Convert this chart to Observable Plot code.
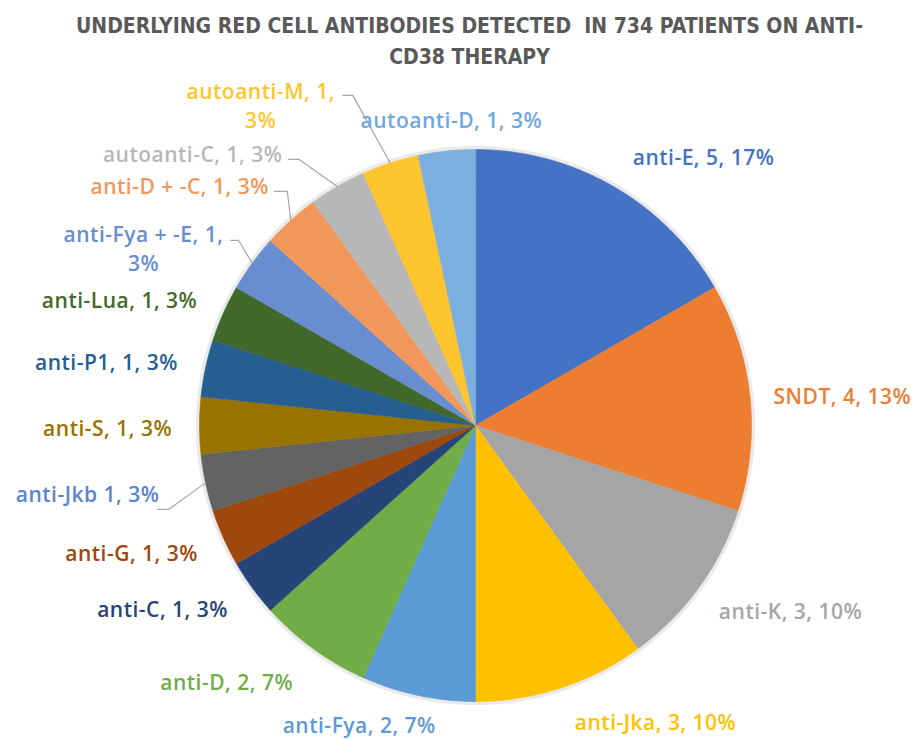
<!DOCTYPE html>
<html><head><meta charset="utf-8">
<script src="https://cdn.jsdelivr.net/npm/d3@7"></script>
<script src="https://cdn.jsdelivr.net/npm/@observablehq/plot@0.6"></script>
<style>
body{margin:0;background:#fff;width:917px;height:739px;overflow:hidden;position:relative;}
#title{position:absolute;top:0;left:0;width:917px;height:80px;text-align:center;font-family:"Liberation Sans Narrow","Arial Narrow","DejaVu Sans Condensed",sans-serif;font-weight:bold;font-size:21px;color:#595959;line-height:31px;padding-top:11px;padding-left:22px;box-sizing:border-box;z-index:2;}
#chart svg{display:block;}
#chart text{letter-spacing:0.5px;}
</style></head><body>
<div id="chart"></div>
<div id="title">UNDERLYING RED CELL ANTIBODIES DETECTED&nbsp; IN 734 PATIENTS ON ANTI-<br>CD38 THERAPY</div>
<script>
// ---- data ----
const names = ["anti-E","SNDT","anti-K","anti-Jka","anti-Fya","anti-D","anti-C","anti-G","anti-Jkb","anti-S","anti-P1","anti-Lua","anti-Fya + -E","anti-D + -C","autoanti-C","autoanti-M","autoanti-D"];
const counts = [5,4,3,3,2,2,1,1,1,1,1,1,1,1,1,1,1];
const sliceColors = ["#4472C4","#ED7D31","#A5A5A5","#FFC000","#5B9BD5","#70AD47","#264478","#9E480E","#636363","#997300","#255E91","#43682B","#698ED0","#F1975A","#B7B7B7","#FFC52E","#7CAFDD"];
const labelColors = ["#4472C4","#ED7D31","#A5A5A5","#FFC000","#5B9BD5","#70AD47","#264478","#9E480E","#5B84CF","#997300","#255E91","#43682B","#698ED0","#F1975A","#B7B7B7","#FFC52E","#6FA8DC"];

// ---- label layout (polar: degrees clockwise from top, radius in pie radii) ----
const labelAngle  = [40.2, 85.2, 120.3, 148.6, 201.3, 224.3, 239.8, 249.9, 260.1, 269.8, 280, 289.6, 298.2, 309.2, 314, 326.2, 355.5];
const labelRadius = [1.28, 1.334, 1.322, 1.252, 1.16, 1.291, 1.312, 1.327, 1.427, 1.333, 1.358, 1.369, 1.365, 1.383, 1.425, 1.399, 1.116];
const wrapAfterCount = ["anti-Fya + -E","autoanti-M"];
const noComma = ["anti-Jkb"];
// leader lines: slice index, elbow polar, horizontal tail (px)
const leaderIndex = [8, 12, 13, 14, 15];
const leaderElbowAngle = [254.7, 308, 321.2, 326.4, 339.6];
const leaderElbowRadius = [1.153, 1.089, 1.088, 1.158, 1.276];
const leaderTail = [11, 8, 13, 10, 10];

const R = 276, W = 917, H = 739, CX = 475, CY = 425;
const total = d3.sum(counts);
const rad = a => a * Math.PI / 180;
const px = (a, r) => r * Math.sin(rad(a));
const py = (a, r) => -r * Math.cos(rad(a));

// slices
const slicePts = [];
let acc = 0;
names.forEach((n, i) => {
  const a0 = acc / total * 360, a1 = (acc + counts[i]) / total * 360;
  acc += counts[i];
  slicePts.push({name: n, color: sliceColors[i], x: 0, y: 0});
  const steps = Math.max(2, Math.ceil((a1 - a0) / 0.5));
  for (let k = 0; k <= steps; k++) {
    const a = a0 + (a1 - a0) * k / steps;
    slicePts.push({name: n, color: sliceColors[i], x: px(a, 1), y: py(a, 1)});
  }
});
const mids = [];
acc = 0;
counts.forEach(c => { mids.push((acc + c / 2) / total * 360); acc += c; });

// glow ring
const ring = d3.range(0, 361, 1).map(a => ({x: px(a, 1.004), y: py(a, 1.004)}));

// labels
const labels = names.map((n, i) => {
  const pct = Math.round(counts[i] / total * 100);
  const sep = noComma.includes(n) ? " " : ", ";
  const brk = wrapAfterCount.includes(n) ? ",\n" : ", ";
  return {
    text: n + sep + counts[i] + brk + pct + "%",
    color: labelColors[i],
    x: px(labelAngle[i], labelRadius[i]),
    y: py(labelAngle[i], labelRadius[i])
  };
});

// leaders
const leaderPts = [];
leaderIndex.forEach((si, j) => {
  const ex = px(leaderElbowAngle[j], leaderElbowRadius[j]);
  const ey = py(leaderElbowAngle[j], leaderElbowRadius[j]);
  leaderPts.push({id: j, x: px(mids[si], 1), y: py(mids[si], 1)});
  leaderPts.push({id: j, x: ex, y: ey});
  leaderPts.push({id: j, x: ex - leaderTail[j] / R, y: ey});
});

const chart = Plot.plot({
  width: W, height: H, margin: 0,
  style: {background: "white"},
  x: {domain: [-CX / R, (W - CX) / R], range: [0, W], axis: null},
  y: {domain: [-CY / R, (H - CY) / R], range: [0, H], axis: null},
  color: {type: "identity"},
  marks: [
    Plot.line(ring, {x: "x", y: "y", stroke: "#d0d0d0", strokeWidth: 5, strokeOpacity: 0.45}),
    Plot.line(slicePts, {x: "x", y: "y", z: "name", fill: "color", stroke: "color", strokeWidth: 0.6, curve: "linear-closed"}),
    Plot.line(leaderPts, {x: "x", y: "y", z: "id", stroke: "#a6a6a6", strokeWidth: 1.2}),
    Plot.text(labels, {x: "x", y: "y", text: "text", fill: "color", fontSize: 21, fontWeight: 600,
      fontFamily: "'Open Sans', Lato, sans-serif", textAnchor: "middle", lineAnchor: "middle", lineHeight: 1.38})
  ]
});
document.getElementById("chart").appendChild(chart);
</script>
</body></html>
